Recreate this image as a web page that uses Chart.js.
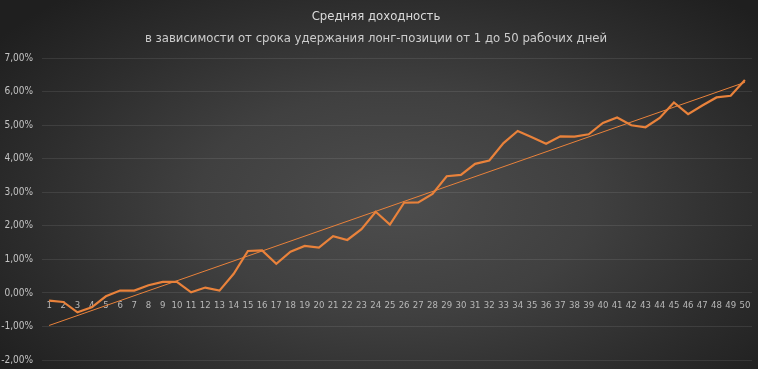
<!DOCTYPE html>
<html>
<head>
<meta charset="utf-8">
<script src="https://cdn.jsdelivr.net/npm/chart.js@4/dist/chart.umd.min.js"></script>
<style>
html,body{margin:0;padding:0;}
body{width:758px;height:369px;overflow:hidden;
background: radial-gradient(ellipse 65% 75% at 52% 55%, #4d4d4d 0%, #404040 40%, #2c2c2c 75%, #1f1f1f 100%);}
#wrap{position:relative;width:758px;height:369px;}
</style>
</head>
<body>
<div id="wrap"><canvas id="c" width="758" height="369"></canvas></div>
<script>
const categories = ["1","2","3","4","5","6","7","8","9","10","11","12","13","14","15","16","17","18","19","20","21","22","23","24","25","26","27","28","29","30","31","32","33","34","35","36","37","38","39","40","41","42","43","44","45","46","47","48","49","50"];
const avgReturn = [-0.23,-0.27,-0.58,-0.43,-0.10,0.07,0.07,0.23,0.33,0.33,0.02,0.16,0.07,0.57,1.25,1.27,0.87,1.23,1.40,1.35,1.69,1.58,1.90,2.42,2.04,2.69,2.70,2.95,3.48,3.52,3.85,3.95,4.47,4.83,4.64,4.45,4.67,4.66,4.73,5.07,5.23,5.00,4.94,5.22,5.68,5.33,5.59,5.83,5.88,6.35];
const trendStart = -0.97;
const trendEnd = 6.28;
const yTicks = {min: -2, max: 7, step: 1};
const titleText = "Средняя доходность";
const subtitleText = "в зависимости от срока удержания лонг-позиции от 1 до 50 рабочих дней";

const trendData = categories.map((c, i) => i === 0 ? trendStart : (i === categories.length - 1 ? trendEnd : null));

const FONT = "'Liberation Sans Narrow', 'DejaVu Sans Condensed', 'Open Sans', sans-serif";
const orange = '#E9823B';

new Chart(document.getElementById('c'), {
  type: 'line',
  data: {
    labels: categories,
    datasets: [
      {data: avgReturn, borderColor: orange, borderWidth: 2.2, pointRadius: 0, tension: 0, order: 1},
      {data: trendData, borderColor: orange, borderWidth: 1, pointRadius: 0, spanGaps: true, tension: 0, order: 2}
    ]
  },
  options: {
    responsive: false,
    animation: false,
    devicePixelRatio: 1,
    layout: {padding: {left: 0, right: 6, top: 0, bottom: 9}},
    plugins: {
      legend: {display: false},
      tooltip: {enabled: false},
      title: {display: true, text: titleText, color: '#dadada', font: {family: FONT, size: 13, weight: 'normal'}, padding: {top: 9, bottom: 6}},
      subtitle: {display: true, text: subtitleText, color: '#cccccc', font: {family: FONT, size: 13, weight: 'normal'}, padding: {top: 0, bottom: 12}}
    },
    scales: {
      x: {
        position: {y: 0},
        offset: true,
        afterFit: s => { s.paddingLeft = 0; s.paddingRight = 0; },
        grid: {display: false, drawTicks: false},
        border: {display: false},
        ticks: {color: '#b8b8b8', font: {family: FONT, size: 9.5}, padding: 7, maxRotation: 0, autoSkip: false}
      },
      y: {
        min: yTicks.min, max: yTicks.max,
        afterFit: s => { s.width = 42; s.paddingTop = 0; s.paddingBottom = 0; },
        grid: {color: 'rgba(255,255,255,0.09)', drawTicks: false, lineWidth: 1},
        border: {display: false},
        ticks: {stepSize: yTicks.step, color: '#c4c4c4', font: {family: FONT, size: 10}, padding: 9,
          callback: v => v.toFixed(2).replace('.', ',') + '%'}
      }
    }
  }
});
</script>
</body>
</html>
